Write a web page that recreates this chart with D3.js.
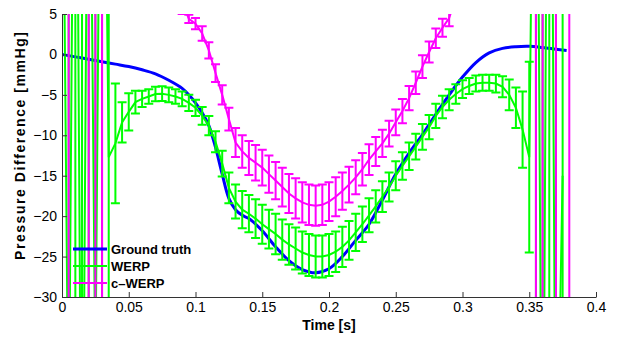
<!DOCTYPE html>
<html>
<head>
<meta charset="utf-8">
<script src="https://cdn.jsdelivr.net/npm/d3@7"></script>
<style>
  body { margin: 0; background: #fff; }
  svg { display: block; font-family: "Liberation Sans", Arial, sans-serif; }
</style>
</head>
<body>
<div id="chartContainer"></div>
<script>
// sample times of the two estimates [s]
var times = [0, 0.005, 0.01, 0.015, 0.02, 0.025, 0.03, 0.035, 0.04, 0.045,
             0.05, 0.055, 0.06, 0.065, 0.07, 0.075, 0.08, 0.085, 0.09, 0.095,
             0.1, 0.105, 0.11, 0.115, 0.12, 0.125, 0.13, 0.135, 0.14, 0.145,
             0.15, 0.155, 0.16, 0.165, 0.17, 0.175, 0.18, 0.185, 0.19, 0.195,
             0.2, 0.205, 0.21, 0.215, 0.22, 0.225, 0.23, 0.235, 0.24, 0.245,
             0.25, 0.255, 0.26, 0.265, 0.27, 0.275, 0.28, 0.285, 0.29, 0.295,
             0.3, 0.305, 0.31, 0.315, 0.32, 0.325, 0.33, 0.335, 0.34, 0.345,
             0.35, 0.355, 0.36, 0.365, 0.37, 0.375, 0.38]

var werp = [40, -50, 60, -70, 50, -40, 60, -12.7, -11.0, -8.4,
            -7.1, -5.9, -5.5, -5.2, -4.9, -4.85, -5.0, -5.2, -5.5, -6.0,
            -6.6, -7.6, -8.8, -10.8, -13.5, -16.5, -18.2, -19.2, -19.7, -20.3,
            -21.0, -21.6, -22.2, -22.9, -23.5, -24.0, -24.5, -24.8, -25.0, -25.0,
            -24.8, -24.4, -23.8, -23.0, -22.0, -21.0, -19.9, -18.8, -17.6, -16.4,
            -15.0, -13.8, -12.6, -11.4, -10.2, -9.0, -7.6, -6.5, -5.6, -4.9,
            -4.3, -3.9, -3.6, -3.5, -3.5, -3.6, -4.0, -5.0, -6.6, -9.3,
            -12.7, 60, -70, 80, -60, -15, null]

var werpErr = [300, 300, 300, 300, 300, 300, 300, 300, 7.4, 2.5,
               2.3, 1.4, 1.0, 0.9, 0.9, 0.9, 0.9, 0.9, 0.9, 1.0,
               1.0, 1.1, 1.2, 1.3, 1.6, 1.9, 2.1, 2.3, 2.3, 2.4,
               2.4, 2.4, 2.5, 2.5, 2.5, 2.6, 2.6, 2.6, 2.6, 2.6,
               2.6, 2.5, 2.5, 2.4, 2.3, 2.2, 2.1, 2.0, 1.9, 1.8,
               1.8, 1.7, 1.7, 1.6, 1.6, 1.5, 1.5, 1.4, 1.3, 1.2,
               1.1, 1.0, 1.0, 1.0, 1.0, 1.1, 1.3, 1.9, 2.5, 4.7,
               11.8, 300, 300, 300, 300, 300, null]

var cwerp = [40, 50, 45, 55, 50, 45, 50, 40, 34, 29,
             25, 21, 18, 15.5, 13.5, 11.5, 9.8, 8.2, 6.5, 4.4,
             3.8, 2.6, 0.5, -2.3, -5.0, -8.0, -10.9, -12.0, -12.8, -13.4,
             -14.0, -14.8, -15.6, -16.4, -17.2, -17.8, -18.3, -18.6, -18.7, -18.6,
             -18.2, -17.6, -16.9, -16.1, -15.2, -14.2, -13.0, -12.0, -11.0, -9.8,
             -8.4, -7.0, -5.4, -3.5, -1.5, 0.3, 2.0, 3.3, 4.5, 7,
             9.5, 12, 15, 18, 21, 24, 27, 30, 34, 38,
             42, 45, 50, 45, 50, 45, 50]

var cwerpErr = [1.5, 300, 1.5, 1.5, 300, 300, 300, 1.5, 1.5, 1.5,
                1.5, 1.5, 1.5, 1.5, 1.5, 1.5, 1.5, 1.5, 1.5, 0.5,
                0.7, 0.9, 1.0, 1.1, 1.2, 1.4, 1.8, 2.0, 2.1, 2.2,
                2.2, 2.3, 2.3, 2.4, 2.4, 2.5, 2.5, 2.5, 2.5, 2.5,
                2.4, 2.4, 2.3, 2.2, 2.1, 2.0, 1.9, 1.8, 1.7, 1.6,
                1.6, 1.5, 1.5, 1.4, 1.4, 1.3, 1.2, 1.1, 1.0, 1.0,
                1.5, 1.5, 1.5, 1.5, 1.5, 1.5, 1.5, 1.5, 1.5, 1.5,
                1.5, 300, 300, 1.5, 300, 1.5, 300]

// ground truth, finer sampling
var truthTimes = [0, 0.01, 0.02, 0.03, 0.04, 0.05, 0.06, 0.07, 0.08, 0.09,
                  0.095, 0.1, 0.105, 0.11, 0.115, 0.12, 0.125, 0.13, 0.135, 0.14,
                  0.15, 0.16, 0.17, 0.18, 0.19, 0.2, 0.21, 0.22, 0.23, 0.24,
                  0.25, 0.26, 0.27, 0.28, 0.29, 0.3, 0.31, 0.32, 0.33, 0.34,
                  0.35, 0.36, 0.37, 0.378]
var truth = [0, -0.3, -0.6, -0.9, -1.2, -1.5, -1.9, -2.4, -3.2, -4.2,
             -5.0, -6.0, -7.2, -8.8, -11.5, -14.8, -17.8, -19.2, -19.9, -20.3,
             -21.8, -23.8, -25.5, -26.6, -27.0, -26.5, -25.0, -23.0, -21.0, -18.0,
             -14.8, -12.2, -9.9, -7.4, -5.0, -2.8, -1.0, 0.2, 0.75, 0.95,
             1.0, 0.85, 0.65, 0.5]

var xTicks = [0, 0.05, 0.1, 0.15, 0.2, 0.25, 0.3, 0.35, 0.4]
var yTicks = [-30, -25, -20, -15, -10, -5, 0, 5]

var seriesNames = ['Ground truth', 'WERP', 'c\u2013WERP']
var seriesColors = ['#0000ff', '#00ff00', '#ff00ff']

renderChart()

function renderChart() {
    var width = 620, height = 337
    var left = 62, right = 596, top = 14, bottom = 297

    var svg = d3.select('#chartContainer').append('svg')
        .attr('width', width)
        .attr('height', height)

    var xScale = d3.scaleLinear().domain([0, 0.4]).range([left, right])
    var yScale = d3.scaleLinear().domain([-30, 5]).range([bottom, top])

    svg.append('clipPath').attr('id', 'plotClip')
        .append('rect')
        .attr('x', left).attr('y', top)
        .attr('width', right - left).attr('height', bottom - top)

    var plot = svg.append('g').attr('clip-path', 'url(#plotClip)')

    // ground truth
    var truthData = truthTimes.map(function(t, i) { return { t: t, v: truth[i] } })
    plot.append('path')
        .datum(truthData)
        .attr('fill', 'none')
        .attr('stroke', seriesColors[0])
        .attr('stroke-width', 3)
        .attr('d', d3.line()
            .curve(d3.curveCatmullRom)
            .x(function(d) { return xScale(d.t) })
            .y(function(d) { return yScale(d.v) }))

    drawErrorSeries(plot, werp, werpErr, seriesColors[1])
    drawErrorSeries(plot, cwerp, cwerpErr, seriesColors[2])

    function drawErrorSeries(g, vals, errs, color) {
        var data = times.map(function(t, i) { return { t: t, v: vals[i], e: errs[i] } })
                        .filter(function(d) { return d.v !== null })
        var cap = 4.5
        var bars = g.append('g').attr('stroke', color).attr('stroke-width', 2).attr('fill', 'none')
        bars.selectAll('path')
            .data(data)
            .enter()
            .append('path')
            .attr('d', function(d) {
                var x = xScale(d.t),
                    y0 = yScale(d.v - d.e),
                    y1 = yScale(d.v + d.e)
                return 'M' + x + ',' + y0 + 'V' + y1 +
                       'M' + (x - cap) + ',' + y0 + 'H' + (x + cap) +
                       'M' + (x - cap) + ',' + y1 + 'H' + (x + cap)
            })
        g.append('path')
            .datum(data)
            .attr('fill', 'none')
            .attr('stroke', color)
            .attr('stroke-width', 2)
            .attr('d', d3.line()
                .x(function(d) { return xScale(d.t) })
                .y(function(d) { return yScale(d.v) }))
    }

    // axes, ticks pointing inward
    svg.append('g')
        .attr('transform', 'translate(0,' + bottom + ')')
        .call(d3.axisBottom(xScale)
            .tickValues(xTicks)
            .tickFormat(function(d) { return String(d) })
            .tickSizeInner(-5).tickSizeOuter(0).tickPadding(5))
    svg.append('g')
        .attr('transform', 'translate(' + left + ',0)')
        .call(d3.axisLeft(yScale)
            .tickValues(yTicks)
            .tickSizeInner(-5).tickSizeOuter(0).tickPadding(5))

    svg.selectAll('.domain, .tick line').attr('stroke', '#333')
    svg.selectAll('.tick text').attr('font-size', 14).attr('fill', '#000')
        .attr('font-family', '"Liberation Sans", Arial, sans-serif')

    svg.append('text')
        .attr('x', 329)
        .attr('y', 330)
        .attr('text-anchor', 'middle')
        .attr('font-size', 14)
        .attr('font-weight', 'bold')
        .text('Time [s]')

    svg.append('text')
        .attr('transform', 'translate(25,146) rotate(-90)')
        .attr('text-anchor', 'middle')
        .attr('font-size', 14)
        .attr('font-weight', 'bold')
        .attr('textLength', 228)
        .attr('lengthAdjust', 'spacing')
        .text('Pressure Difference [mmHg]')

    // legend
    var legend = svg.append('g')
    seriesNames.forEach(function(name, i) {
        var y = 249 + i * 17
        legend.append('line')
            .attr('x1', 73).attr('x2', 107)
            .attr('y1', y).attr('y2', y)
            .attr('stroke', seriesColors[i])
            .attr('stroke-width', i === 0 ? 3 : 2)
        legend.append('text')
            .attr('x', 111)
            .attr('y', y + 5)
            .attr('font-size', 13)
            .attr('font-weight', 'bold')
            .text(name)
    })
}
</script>
</body>
</html>
